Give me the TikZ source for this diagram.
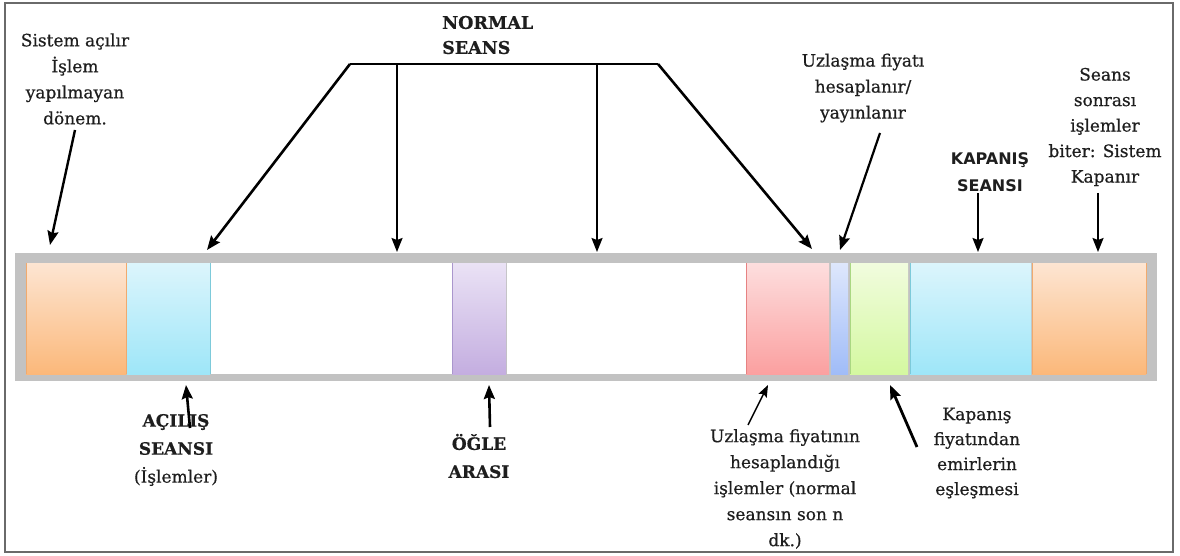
\documentclass[tikz,border=0pt]{standalone}
\usepackage{fontspec}
\setmainfont{DejaVu Serif}[FakeBold=0.6]
\newfontfamily\capfont{DejaVu Sans}
\usetikzlibrary{arrows.meta}
\definecolor{txt}{HTML}{1E1E1E}
\definecolor{barg}{HTML}{C2C2C2}
\definecolor{frm}{HTML}{6A6A6A}
\definecolor{orT}{RGB}{253,229,210}\definecolor{orB}{RGB}{251,184,122}\definecolor{orE}{RGB}{240,170,110}
\definecolor{cyT}{RGB}{220,245,252}\definecolor{cyB}{RGB}{158,230,248}\definecolor{cyE}{RGB}{125,202,218}
\definecolor{puT}{RGB}{234,226,245}\definecolor{puB}{RGB}{196,174,224}\definecolor{puE}{RGB}{170,150,205}
\definecolor{piT}{RGB}{253,222,222}\definecolor{piB}{RGB}{251,160,160}\definecolor{piE}{RGB}{230,130,130}
\definecolor{blT}{RGB}{222,231,252}\definecolor{blB}{RGB}{160,188,248}
\definecolor{grT}{RGB}{241,252,222}\definecolor{grB}{RGB}{212,248,160}\definecolor{grE}{RGB}{170,215,130}
\begin{document}
\begin{tikzpicture}[x=1pt,y=-1pt,
  lbl/.style={font=\fontsize{17}{26}\selectfont, text=txt, align=center, inner sep=0pt},
  blbl/.style={lbl, font=\fontsize{17}{26}\selectfont\bfseries},
  arr/.style={draw=black, line width=2pt, -{Stealth[length=14pt,width=11pt,inset=2pt]}},
  thin arr/.style={draw=black, line width=1.5pt, -{Stealth[length=12pt,width=9pt,inset=2pt]}},
  cell/.style={line width=0.8pt}
]
\useasboundingbox (0,0) rectangle (1180,556);
\fill[white] (0,0) rectangle (1180,556);
% outer frame
\draw[frm, line width=1.6pt] (5,3) rectangle (1173,552);

% bar
\fill[barg] (15,253) rectangle (1157,381);
\shade[top color=orT, bottom color=orB] (26,263) rectangle (126,374);
\draw[cell, orE] (26,263) -- (26,374) (126,263) -- (126,374);
\shade[top color=cyT, bottom color=cyB] (127,263) rectangle (210,374);
\draw[cell, cyE] (210,263) -- (210,374);
\fill[white] (211,263) rectangle (452,374);
\shade[top color=puT, bottom color=puB] (452,263) rectangle (506,374);
\draw[cell, puE] (452,263) -- (452,374);
\fill[white] (507,263) rectangle (746,374);
\shade[top color=piT, bottom color=piB] (746,263) rectangle (829,374);
\draw[cell, piE] (746,263) -- (746,374);
\shade[top color=blT, bottom color=blB] (831,263) rectangle (848,374);
\shade[top color=grT, bottom color=grB] (850,263) rectangle (908,374);
\draw[cell, grE] (850,263) -- (850,374);
\shade[top color=cyT, bottom color=cyB] (910,263) rectangle (1031,374);
\draw[cell, cyE] (910,263) -- (910,374);
\shade[top color=orT, bottom color=orB] (1032,263) rectangle (1146,374);
\draw[cell, orE] (1032,263) -- (1032,374) (1146,263) -- (1146,374);

% labels
\node[lbl] (sys) at (75,79) {Sistem açılır\\İşlem\\yapılmayan\\dönem.};
\node[blbl, align=left, anchor=west, font=\fontsize{17.5}{25}\selectfont\bfseries] (normal) at (442,35) {NORMAL\\SEANS};
\node[lbl] (uzf) at (863,88) {Uzlaşma fiyatı\\hesaplanır/\\yayınlanır};
\node[lbl, font=\fontsize{17}{25.5}\selectfont] (seans) at (1105,127) {Seans\\sonrası\\işlemler\\biter: Sistem\\Kapanır};
\node[lbl, font=\fontsize{16}{27}\selectfont\capfont\bfseries] (kap) at (990,172) {KAPANIŞ\\SEANSI};
\node[lbl, font=\fontsize{17}{28}\selectfont] (acilis) at (176,450) {\textbf{AÇILIŞ}\\\textbf{SEANSI}\\(İşlemler)};
\node[blbl, font=\fontsize{17}{28}\selectfont\bfseries] (ogle) at (479,456) {ÖĞLE\\ARASI};
\node[lbl] (uzb) at (785,489) {Uzlaşma fiyatının\\hesaplandığı\\işlemler (normal\\seansın son n\\dk.)};
\node[lbl, font=\fontsize{17}{25}\selectfont] (kapf) at (977,453) {Kapanış\\fiyatından\\emirlerin\\eşleşmesi};

% coordinates
\coordinate (sysA) at (75,130);   \coordinate (sysB) at (50,245);
\coordinate (nl) at (350,64);     \coordinate (nr) at (658,64);
\coordinate (nm1) at (397,64);    \coordinate (nm2) at (597,64);
\coordinate (t1) at (207,250);    \coordinate (t2) at (397,252);
\coordinate (t3) at (597,252);    \coordinate (t4) at (812,249);
\coordinate (uzA) at (880,133);   \coordinate (uzB) at (840,250);
\coordinate (kapA) at (978,193);  \coordinate (kapB) at (978,252);
\coordinate (seA) at (1098,193);  \coordinate (seB) at (1098,252);
\coordinate (acA) at (190,428);   \coordinate (acB) at (186,385);
\coordinate (ogA) at (490,427);   \coordinate (ogB) at (489,385);
\coordinate (ubA) at (748,425);   \coordinate (ubB) at (768,385);
\coordinate (kfA) at (917,447);   \coordinate (kfB) at (890,385);

% connectors
\draw[arr, line width=2.4pt] (sysA) -- (sysB);
\draw[line width=2pt] (nl) -- (nr);
\draw[arr, line width=2.6pt] (nl) -- (t1);
\draw[arr, line width=1.8pt] (nm1) -- (t2);
\draw[arr, line width=1.8pt] (nm2) -- (t3);
\draw[arr, line width=2.6pt] (nr) -- (t4);
\draw[arr, line width=2.2pt] (uzA) -- (uzB);
\draw[arr, line width=1.8pt] (kapA) -- (kapB);
\draw[arr, line width=1.8pt] (seA) -- (seB);
\draw[arr, line width=2.6pt] (acA) -- (acB);
\draw[arr, line width=2.6pt] (ogA) -- (ogB);
\draw[thin arr] (ubA) -- (ubB);
\draw[arr, line width=2.8pt] (kfA) -- (kfB);
\end{tikzpicture}
\end{document}
